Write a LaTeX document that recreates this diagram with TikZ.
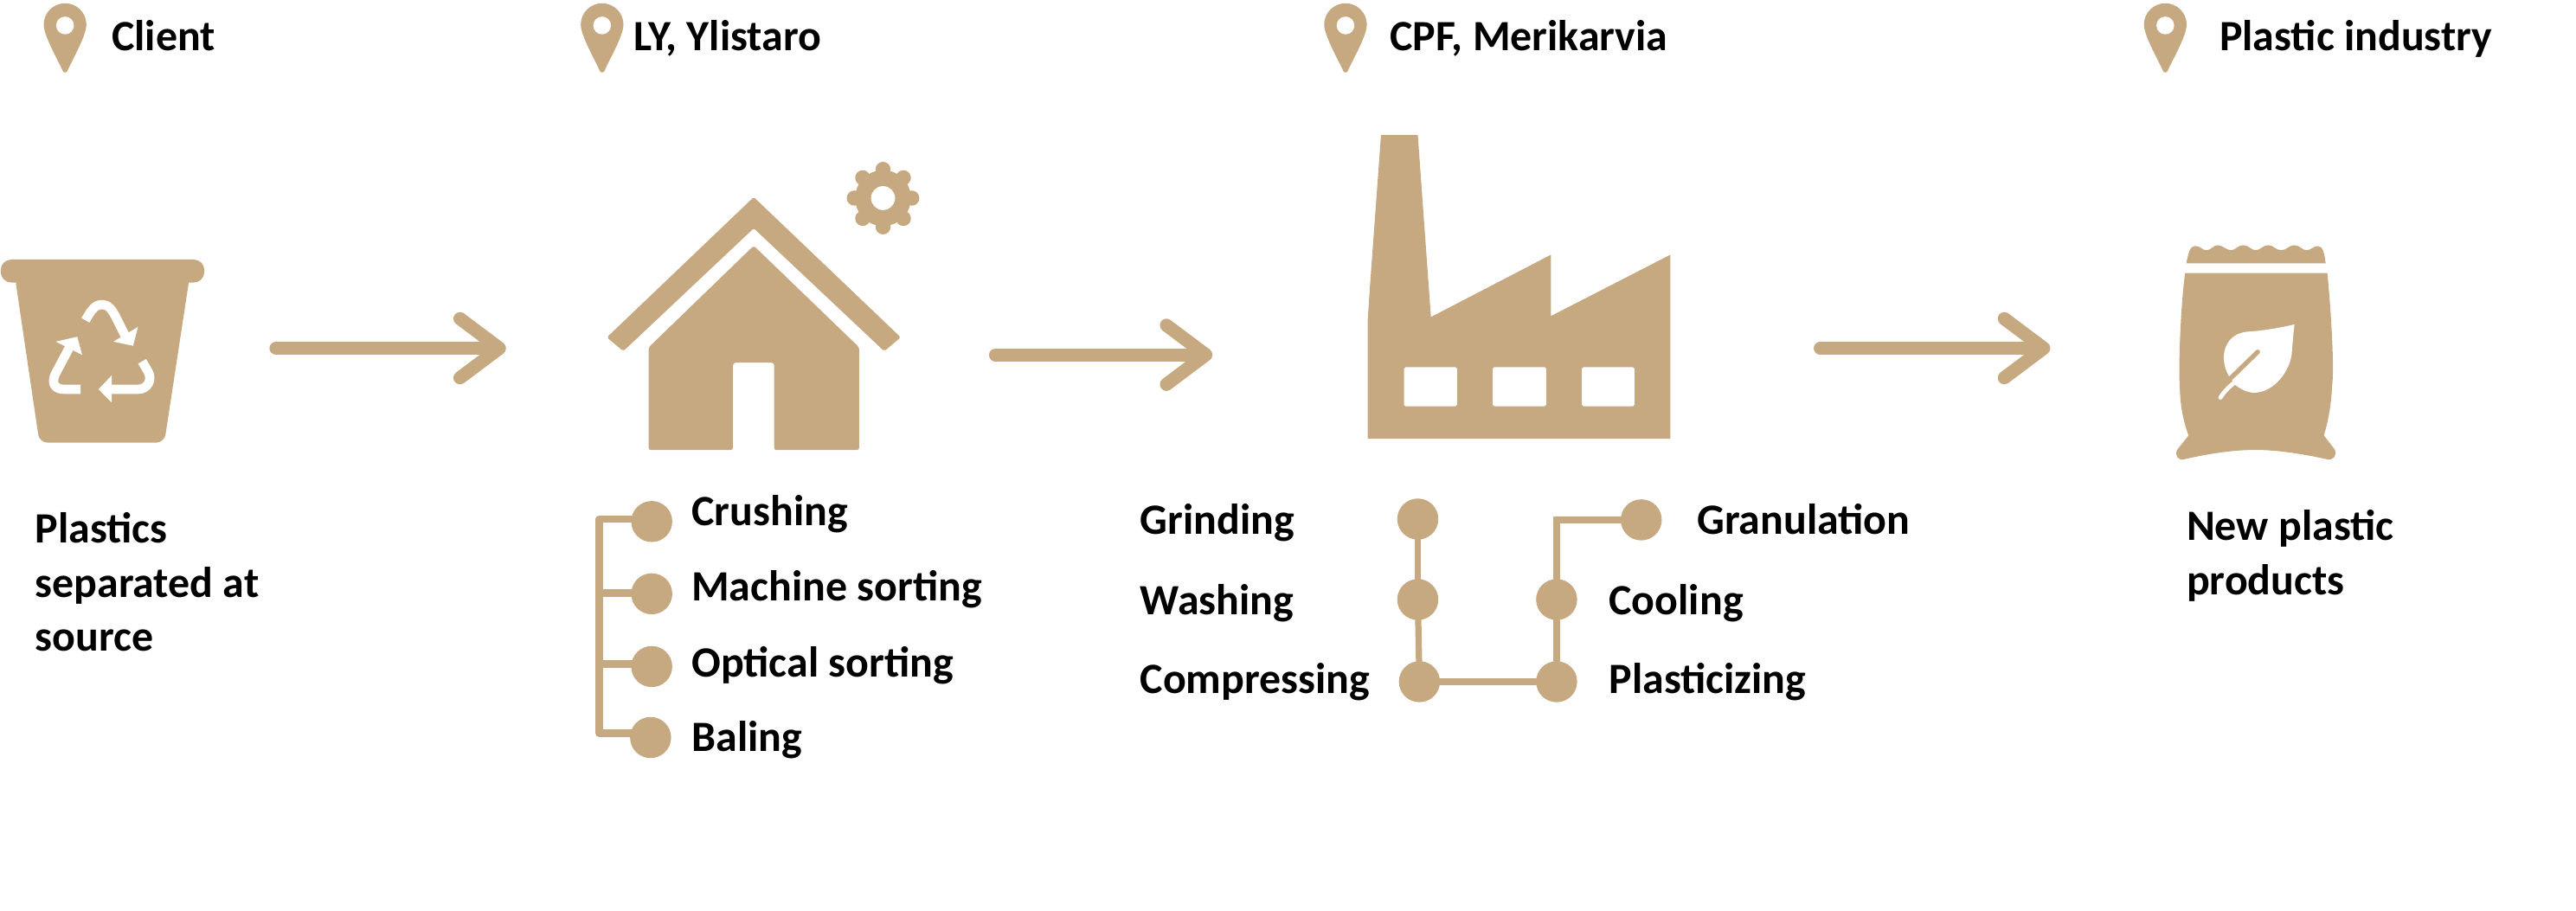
\documentclass[tikz,border=0pt]{standalone}
\usepackage{fontspec}
\setmainfont{Carlito}
\usetikzlibrary{arrows.meta}
\definecolor{sand}{HTML}{C7A981}
\tikzset{
  x=1pt,y=-1pt,
  lab/.style={anchor=base west,inner sep=0pt,outer sep=0pt,align=left,text=black,font=\fontsize{26.3}{33}\selectfont\bfseries},
  dot/.style={circle,fill=sand,draw=none,minimum size=25pt,inner sep=0pt},
  link/.style={draw=sand,line width=4.6pt,line cap=round,line join=round},
  thinlink/.style={draw=sand,line width=3.8pt,line cap=round},
  flow/.style={draw=sand,line width=8pt,line cap=round,line join=round,-{Straight Barb[length=24pt,width=36pt,round]}},
  recyc/.style={draw=white,line width=5.6pt,line cap=butt},
  pin marker/.pic={
    \fill[sand] (-13,0) .. controls (-13,-7.2) and (-7.2,-13) .. (0,-13)
      .. controls (7.2,-13) and (13,-7.2) .. (13,0)
      .. controls (13,7) and (3,24) .. (1.5,28) .. controls (1,29.5) and (-1,29.5) .. (-1.5,28)
      .. controls (-3,24) and (-13,7) .. (-13,0) -- cycle;
    \fill[white] (0,0.5) circle (5.4);
  }
}
\begin{document}
\begin{tikzpicture}
\useasboundingbox (0,0) rectangle (1568,554.1);
% location pins
\pic at (39.6,15) {pin marker};
\pic at (366.5,15) {pin marker};
\pic at (819,15) {pin marker};
\pic at (1318,15) {pin marker};
\node[lab] (tClient) at (68,31) {Client};
\node[lab] (tLY) at (386,31) {LY, Ylistaro};
\node[lab] (tCPF) at (846,31) {CPF, Merikarvia};
\node[lab] (tInd) at (1351,31) {Plastic industry};
% bin
\fill[sand,rounded corners=6.5pt] (0.4,158) rectangle (124.4,172);
\fill[sand,rounded corners=5pt] (9,168) -- (115.5,168) -- (100,269.5) -- (24,269.5) -- cycle;
\draw[recyc] (52,195) .. controls (56,188) and (58,185.5) .. (62,185.5) .. controls (66,185.5) and (68,188) .. (71,194) -- (76,204);
\fill[white] (69,208) -- (81,210.5) -- (84,199) -- cycle;
\draw[recyc] (42,212) -- (33.5,228) .. controls (31,234) and (34,237) .. (39,237) -- (49,237);
\fill[white] (34,208) -- (47,205) -- (50,216) -- cycle;
\draw[recyc] (68,237) -- (84,237) .. controls (90,237) and (93,231) .. (90,226) -- (86.5,220);
\fill[white] (68,228.5) -- (60,237) -- (68,245) -- cycle;
% arrows
\coordinate (a1s) at (168,212); \coordinate (a1e) at (308,212);
\coordinate (a2s) at (606,216); \coordinate (a2e) at (738,216);
\coordinate (a3s) at (1108,212); \coordinate (a3e) at (1248,212);
\draw[flow] (a1s) -- (a1e);
\draw[flow] (a2s) -- (a2e);
\draw[flow] (a3s) -- (a3e);
% house
\fill[sand,rounded corners=1pt] (458.8,120) -- (548.3,205.4) -- (538.2,213.8) -- (458.8,139) -- (379.4,213.8) -- (369.4,205.4) -- cycle;
\fill[sand,rounded corners=1.5pt] (458.8,149.6) -- (523,211.5) -- (523,274) -- (471.2,274) -- (471.2,220.8) -- (446.2,220.8) -- (446.2,274) -- (394.8,274) -- (394.8,211.5) -- cycle;
% gear
\fill[sand] (537.5,120.6) circle (17);
\foreach \a in {0,45,...,315}
  \fill[sand] (537.5,120.6) ++(\a:17.5) circle (4.6);
\fill[white] (537.5,120.6) circle (7.3);
% factory
\fill[sand] (832.5,267.1) -- (832.5,195) -- (833.9,174) -- (840.6,82.2) -- (863,82.2) -- (871,193) -- (944,155.1) -- (944,192.4) -- (1016.7,155.1) -- (1016.7,267.1) -- cycle;
\fill[white,rounded corners=1pt] (854.6,223.5) rectangle (886.9,247.4);
\fill[white,rounded corners=1pt] (908.6,223.5) rectangle (941.1,247.4);
\fill[white,rounded corners=1pt] (962.9,223.5) rectangle (994.8,247.4);
% bag
\fill[sand] (1330.8,160.3) .. controls (1332,154) and (1333,149.8) .. (1336,149.8)
  .. controls (1340,149.8) and (1340,152.3) .. (1343,152.3) .. controls (1346,152.3) and (1347,149.3) .. (1350,149.3)
  .. controls (1353,149.3) and (1355,152.3) .. (1358,152.3) .. controls (1361,152.3) and (1362,149.3) .. (1365.5,149.3)
  .. controls (1369,149.3) and (1370,152.3) .. (1373,152.3) .. controls (1376,152.3) and (1377,149.3) .. (1380.8,149.3)
  .. controls (1384,149.3) and (1385,152.3) .. (1388.5,152.3) .. controls (1392,152.3) and (1393,149.3) .. (1396.6,149.3)
  .. controls (1400,149.3) and (1401,152.3) .. (1404,152.3) .. controls (1407,152.3) and (1408,149.8) .. (1411,149.8)
  .. controls (1414,149.8) and (1415,155) .. (1415.6,160.3) -- cycle;
\fill[sand] (1330,166.3) -- (1416.6,166.3)
  .. controls (1419,190) and (1421,225) .. (1419.5,235) .. controls (1419,247) and (1417,257) .. (1414.5,265.1)
  -- (1421,273.5) .. controls (1423,277) and (1420,281) .. (1416,279.5)
  .. controls (1400,276) and (1385,273.9) .. (1372.9,273.9)
  .. controls (1360,273.9) and (1345,276) .. (1330,279.5)
  .. controls (1326,281) and (1323,277) .. (1325.5,273.5) -- (1332.2,265.1)
  .. controls (1329,257) and (1327,247) .. (1326.8,235) .. controls (1326,225) and (1327,190) .. (1330,166.3) -- cycle;
\fill[white] (1396.6,197.5) .. controls (1388,199.5) and (1377,201.5) .. (1368,201.9)
  .. controls (1358,203) and (1353.6,210) .. (1353.6,217.7)
  .. controls (1353.6,222) and (1355,226) .. (1356.5,228.5)
  -- (1360.6,234.4)
  .. controls (1364,237) and (1368,239) .. (1372,239.1)
  .. controls (1384,239) and (1394,226) .. (1395,215)
  .. controls (1395.5,208) and (1396,203) .. (1396.6,197.5) -- cycle;
\draw[white,line width=2.6pt,line cap=round] (1360,233) .. controls (1356,236) and (1353.5,239) .. (1351.5,242);
\draw[sand,line width=2.8pt,line cap=round] (1374.3,214.2) -- (1356,232);
% labels
\node[lab] (tSource) at (21.4,396.5) {Plastics\\separated at\\source};
\node[lab] (tNew) at (1331,362) {New plastic\\products};
% LY list
\node[dot] (c1) at (396.7,317.5) {};
\node[dot] (c2) at (396.7,361.5) {};
\node[dot] (c3) at (396.7,405.8) {};
\node[dot] (c4) at (396,449) {};
\coordinate (b1) at (364.9,316);
\coordinate (b2) at (364.9,361);
\coordinate (b3) at (364.9,404.4);
\coordinate (b4) at (364.9,446.5);
\draw[link] (c1.center |- b1) -- (b1) -- (b4) -- (c4.center |- b4);
\draw[link] (b2) -- (c2.center |- b2);
\draw[link] (b3) -- (c3.center |- b3);
\node[lab] (tCrush) at (421,320.2) {Crushing};
\node[lab] (tMach) at (421,365.8) {Machine sorting};
\node[lab] (tOpt) at (421,412) {Optical sorting};
\node[lab] (tBal) at (421,457.4) {Baling};
% CPF chain
\node[dot] (d1) at (863,316) {};
\node[dot] (d2) at (863,365) {};
\node[dot] (d3) at (864,415) {};
\node[dot] (d4) at (947.5,415) {};
\node[dot] (d5) at (947.5,365) {};
\node[dot] (d6) at (999,316.5) {};
\coordinate (corner) at (947.5,316.5);
\draw[thinlink] (d1) -- (d2);
\draw[thinlink] (d2) -- (d3);
\draw[link] (d3) -- (d4);
\draw[thinlink] (d4) -- (d5);
\draw[thinlink] (d5) -- (corner) -- (d6);
\node[lab] (tGrind) at (694,325.4) {Grinding};
\node[lab] (tWash) at (694,374.4) {Washing};
\node[lab] (tComp) at (694,422.4) {Compressing};
\node[lab] (tPlast) at (979.4,422.4) {Plasticizing};
\node[lab] (tCool) at (979.4,374.4) {Cooling};
\node[lab] (tGran) at (1033,325.4) {Granulation};
\end{tikzpicture}
\end{document}
